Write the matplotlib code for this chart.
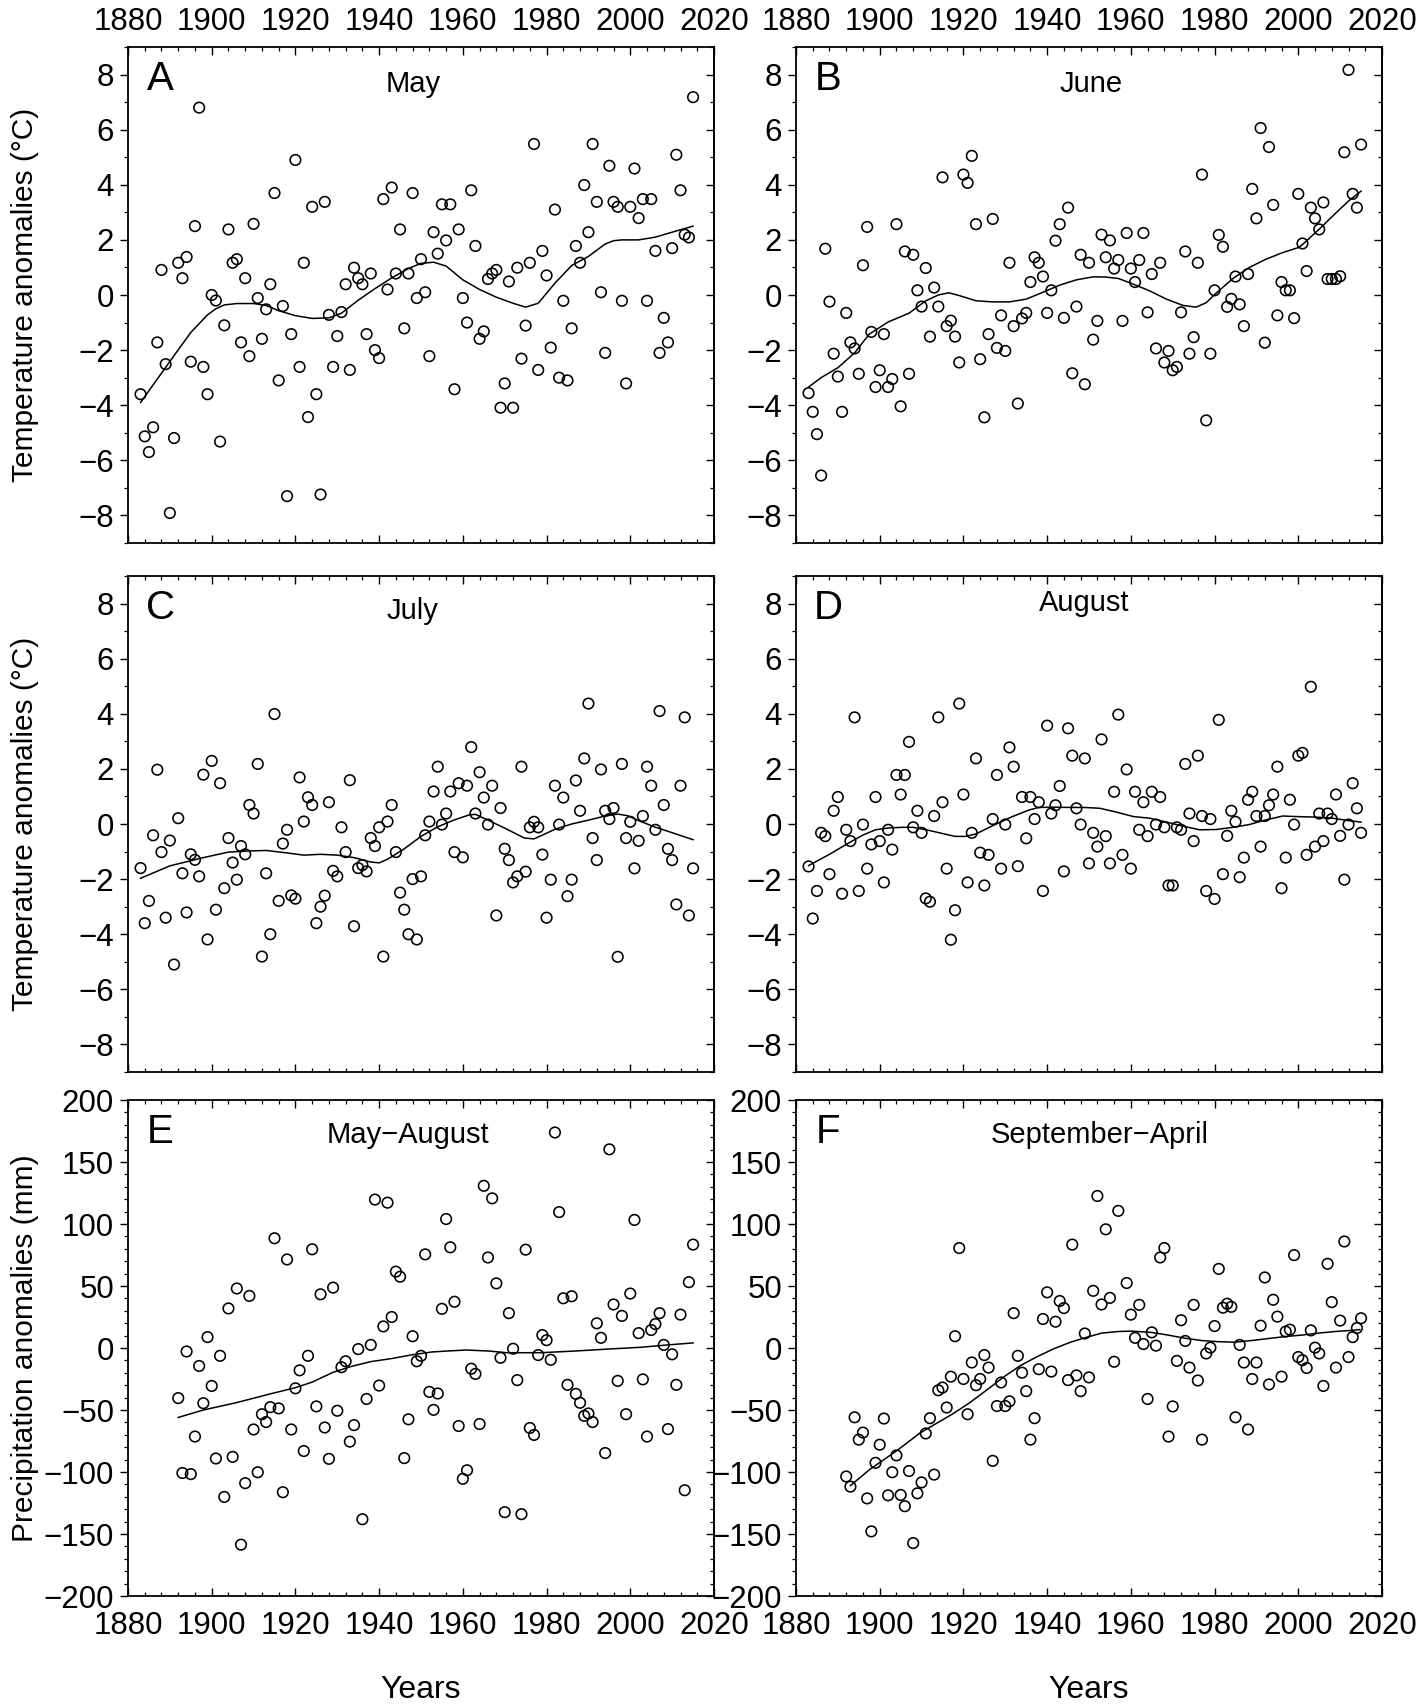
import numpy as np
import matplotlib
matplotlib.use("Agg")
import matplotlib.pyplot as plt
from matplotlib.ticker import MultipleLocator

plt.rcParams['font.family'] = ['Liberation Sans', 'DejaVu Sans']

# ---------------- data ----------------
years_temp = np.arange(1883, 2016)
years_prec = np.arange(1892, 2016)

may = [-3.6, -5.13, -5.7, -4.8, -1.72, 0.91, -2.51, -7.91, -5.19, 1.17,
       0.61, 1.38, -2.42, 2.5, 6.8, -2.61, -3.6, 0.0, -0.2, -5.32,
       -1.1, 2.38, 1.17, 1.3, -1.72, 0.61, -2.22, 2.58, -0.11, -1.59,
       -0.52, 0.39, 3.7, -3.1, -0.4, -7.3, -1.42, 4.9, -2.61, 1.17,
       -4.43, 3.2, -3.6, -7.24, 3.38, -0.72, -2.61, -1.49, -0.62, 0.39,
       -2.72, 0.99, 0.61, 0.39, -1.42, 0.78, -2.0, -2.29, 3.48, 0.2,
       3.9, 0.78, 2.38, -1.21, 0.78, 3.7, -0.11, 1.3, 0.1, -2.22,
       2.28, 1.5, 3.29, 1.98, 3.29, -3.42, 2.38, -0.11, -1.0, 3.8,
       1.78, -1.59, -1.32, 0.58, 0.78, 0.91, -4.09, -3.21, 0.49, -4.09,
       0.99, -2.31, -1.11, 1.17, 5.48, -2.72, 1.6, 0.71, -1.91, 3.1,
       -3.0, -0.21, -3.1, -1.21, 1.78, 1.17, 3.99, 2.28, 5.48, 3.38,
       0.1, -2.1, 4.69, 3.38, 3.2, -0.21, -3.21, 3.2, 4.59, 2.79,
       3.48, -0.21, 3.48, 1.6, -2.1, -0.83, -1.72, 1.7, 5.09, 3.8,
       2.19, 2.09, 7.18]

june = [-3.56, -4.24, -5.05, -6.55, 1.68, -0.24, -2.13, -2.96, -4.24, -0.65,
        -1.72, -1.94, -2.86, 1.08, 2.47, -1.34, -3.34, -2.73, -1.42, -3.34,
        -3.05, 2.57, -4.04, 1.58, -2.86, 1.46, 0.17, -0.42, 0.98, -1.51,
        0.27, -0.42, 4.27, -1.13, -0.93, -1.51, -2.45, 4.37, 4.07, 5.05,
        2.57, -2.33, -4.44, -1.42, 2.76, -1.92, -0.74, -2.03, 1.17, -1.13,
        -3.94, -0.85, -0.65, 0.47, 1.37, 1.17, 0.67, -0.65, 0.17, 1.97,
        2.57, -0.83, 3.17, -2.84, -0.42, 1.46, -3.24, 1.17, -1.62, -0.94,
        2.19, 1.37, 1.98, 0.96, 1.27, -0.94, 2.25, 0.96, 0.47, 1.27,
        2.25, -0.63, 0.76, -1.94, 1.17, -2.45, -2.03, -2.73, -2.61, -0.63,
        1.58, -2.13, -1.53, 1.17, 4.37, -4.55, -2.13, 0.17, 2.18, 1.75,
        -0.43, -0.14, 0.67, -0.34, -1.13, 0.76, 3.85, 2.78, 6.06, -1.73,
        5.37, 3.27, -0.74, 0.47, 0.17, 0.17, -0.84, 3.67, 1.87, 0.87,
        3.17, 2.78, 2.38, 3.36, 0.58, 0.58, 0.58, 0.68, 5.18, 8.17,
        3.67, 3.17, 5.46]

july = [-1.6, -3.6, -2.79, -0.41, 1.97, -1.02, -3.4, -0.6, -5.1, 0.21,
        -1.79, -3.21, -1.1, -1.3, -1.9, 1.79, -4.19, 2.29, -3.11, 1.48,
        -2.33, -0.51, -1.4, -2.02, -0.8, -1.1, 0.69, 0.38, 2.18, -4.81,
        -1.79, -4.0, 3.99, -2.79, -0.71, -0.21, -2.59, -2.71, 1.69, 0.09,
        0.97, 0.69, -3.6, -3.0, -2.6, 0.79, -1.7, -1.9, -0.12, -1.02,
        1.59, -3.71, -1.6, -1.49, -1.72, -0.51, -0.8, -0.12, -4.81, 0.09,
        0.69, -1.02, -2.49, -3.11, -4.0, -2.0, -4.19, -1.9, -0.41, 0.09,
        1.18, 2.08, -0.02, 0.38, 1.18, -1.02, 1.48, -1.21, 1.39, 2.79,
        0.38, 1.88, 0.96, -0.02, 1.39, -3.32, 0.58, -0.9, -1.31, -2.12,
        -1.9, 2.08, -1.73, -0.12, 0.08, -0.12, -1.11, -3.4, -2.02, 1.39,
        -0.02, 0.96, -2.62, -2.02, 1.58, 0.48, 2.38, 4.37, -0.51, -1.31,
        1.98, 0.48, 0.18, 0.58, -4.82, 2.18, -0.51, 0.08, -1.61, -0.61,
        0.29, 2.08, 1.39, -0.21, 4.1, 0.69, -0.9, -1.31, -2.92, 1.39,
        3.87, -3.32, -1.61]

august = [-1.54, -3.43, -2.43, -0.32, -0.44, -1.82, 0.48, 0.98, -2.53, -0.21,
          -0.62, 3.87, -2.43, -0.02, -1.62, -0.74, 0.98, -0.62, -2.12, -0.21,
          -0.93, 1.78, 1.07, 1.78, 2.98, -0.12, 0.48, -0.32, -2.7, -2.82,
          0.29, 3.87, 0.79, -1.62, -4.2, -3.13, 4.37, 1.07, -2.12, -0.32,
          2.38, -1.04, -2.23, -1.12, 0.18, 1.78, -1.62, -0.02, 2.78, 2.08,
          -1.53, 0.98, -0.52, 0.98, 0.18, 0.79, -2.43, 3.57, 0.38, 0.68,
          1.38, -1.72, 3.47, 2.48, 0.57, -0.02, 2.38, -1.43, -0.32, -0.82,
          3.07, -0.44, -1.43, 1.17, 3.97, -1.12, 1.98, -1.62, 1.17, -0.21,
          0.79, -0.44, 1.17, -0.02, 0.98, -0.12, -2.23, -2.23, -0.12, -0.21,
          2.18, 0.38, -0.62, 2.48, 0.29, -2.43, 0.18, -2.72, 3.78, -1.82,
          -0.43, 0.48, 0.08, -1.93, -1.22, 0.88, 1.17, 0.29, -0.82, 0.29,
          0.68, 1.07, 2.08, -2.33, -1.22, 0.88, -0.02, 2.48, 2.58, -1.12,
          4.98, -0.82, 0.38, -0.62, 0.38, 0.18, 1.07, -0.43, -2.02, -0.02,
          1.48, 0.57, -0.32]

prec_may_aug = [-40.4, -100.8, -2.8, -101.7, -71.4, -14.5, -44.5, 8.8, -30.6, -89.1,
                -6.3, -120.1, 31.9, -87.8, 48.0, -158.6, -109.0, 42.0, -65.7, -100.2,
                -53.4, -59.7, -47.7, 88.5, -48.7, -116.3, 71.4, -65.7, -32.5, -18.0,
                -83.1, -6.3, 79.6, -47.1, 43.3, -64.1, -89.4, 48.7, -50.6, -15.5,
                -10.7, -75.5, -62.2, -0.9, -138.1, -41.1, 2.5, 119.7, -30.3, 17.4,
                117.2, 25.0, 61.6, 57.5, -88.8, -57.5, 9.5, -10.7, -6.3, 75.5,
                -35.4, -49.9, -36.7, 31.6, 104.0, 81.2, 37.3, -62.9, -105.5, -98.6,
                -16.7, -20.9, -61.3, 130.8, 73.0, 120.7, 52.1, -7.9, -132.4, 28.1,
                -0.6, -25.9, -134.0, 79.3, -64.5, -70.1, -5.7, 10.4, 6.3, -9.5,
                173.8, 109.6, 40.1, -29.7, 41.7, -37.0, -44.2, -54.7, -52.8, -59.7,
                19.9, 8.2, -84.7, 160.2, 35.1, -26.5, 25.9, -53.4, 43.9, 103.3,
                12.0, -25.3, -71.4, 14.5, 19.3, 28.1, 2.5, -65.4, -5.1, -29.7,
                26.9, -114.7, 53.1, 83.4]

prec_sep_apr = [-103.6, -111.8, -55.9, -73.9, -68.2, -121.3, -147.9, -92.6, -78.0, -56.9,
                -118.8, -100.2, -86.6, -118.5, -127.6, -99.2, -157.3, -117.2, -108.4, -68.9,
                -56.6, -102.1, -34.1, -31.9, -48.0, -23.1, 9.5, 80.6, -25.0, -53.4,
                -11.7, -30.0, -25.0, -5.7, -15.8, -91.0, -46.8, -27.8, -46.8, -43.0,
                28.1, -6.3, -19.9, -34.8, -73.9, -56.6, -17.1, 23.4, 44.9, -19.0,
                21.2, 37.9, 32.2, -25.9, 83.4, -22.1, -34.8, 11.7, -23.7, 46.1,
                122.6, 35.1, 95.7, 40.4, -11.1, 110.6, np.nan, 52.4, 26.9, 8.2,
                34.8, 3.2, -41.1, 12.6, 1.9, 73.0, 80.6, -71.4, -47.1, -10.4,
                22.4, 5.7, -15.8, 34.8, -26.2, -73.9, -4.4, 0.3, 17.7, 63.8,
                32.5, 35.7, 33.2, -55.9, 2.5, -11.7, -65.7, -25.0, -11.7, 18.0,
                56.9, -29.4, 38.9, 25.3, -23.1, 13.3, 14.8, 74.9, -7.3, -9.8,
                -16.1, 14.2, 0.3, -4.4, -30.6, 67.9, 37.0, -15.8, 22.1, 85.9,
                -7.3, 8.8, 16.1, 24.0]

# smoothed trend lines
trend_may_x = [1883, 1887, 1891, 1895, 1899, 1901, 1903, 1906, 1910, 1913, 1916, 1920, 1924,
               1928, 1931, 1935, 1939, 1943, 1947, 1950, 1953, 1956, 1960, 1964, 1968, 1972,
               1975, 1978, 1982, 1986, 1990, 1994, 1996, 1998, 2002, 2006, 2010, 2015]
trend_may_y = [-3.9, -3.05, -2.2, -1.36, -0.72, -0.5, -0.36, -0.31, -0.31, -0.38, -0.57, -0.75,
               -0.85, -0.83, -0.66, -0.19, 0.23, 0.62, 0.96, 1.15, 1.19, 1.05, 0.55, 0.2, -0.08,
               -0.3, -0.44, -0.3, 0.43, 1.07, 1.4, 1.85, 1.97, 2.0, 2.0, 2.1, 2.28, 2.5]

trend_june_x = [1883, 1886, 1890, 1894, 1897.5, 1902, 1907, 1911, 1914, 1916.5, 1919, 1923,
                1927, 1931, 1935, 1939, 1943, 1947, 1951, 1954, 1957, 1960, 1964.5, 1968.5,
                1972.5, 1975.6, 1978, 1980.4, 1984.4, 1988.3, 1992.3, 1996.3, 2000.2, 2001,
                2005, 2009, 2012, 2015]
trend_june_y = [-3.34, -3.0, -2.64, -2.1, -1.42, -0.98, -0.66, -0.21, 0.0, 0.08, -0.02, -0.21,
                -0.25, -0.25, -0.15, 0.1, 0.36, 0.55, 0.66, 0.65, 0.6, 0.43, 0.15, -0.15,
                -0.38, -0.44, -0.28, 0.07, 0.6, 1.0, 1.3, 1.54, 1.73, 1.83, 2.39, 2.98, 3.41, 3.77]

trend_july_x = [1883, 1890, 1898, 1904, 1908.5, 1913, 1918, 1922, 1926, 1930, 1934, 1938,
                1940, 1942, 1946, 1950, 1954, 1958, 1961.5, 1963, 1966, 1970, 1974.7, 1977,
                1979.5, 1982, 1986, 1990, 1994, 1997, 1999.4, 2001.7, 2005.7, 2009.7, 2015]
trend_july_y = [-1.97, -1.52, -1.22, -1.02, -0.98, -0.96, -1.05, -1.13, -1.1, -1.13, -1.22,
                -1.38, -1.41, -1.28, -0.9, -0.45, -0.1, 0.15, 0.33, 0.35, 0.14, -0.15, -0.51,
                -0.54, -0.37, -0.19, 0.0, 0.14, 0.29, 0.36, 0.3, 0.14, -0.1, -0.3, -0.57]

trend_aug_x = [1883, 1888, 1892, 1896, 1899, 1902.3, 1905.4, 1908, 1912, 1916, 1918, 1920.5,
               1923, 1927, 1931.7, 1935.7, 1938, 1941, 1946, 1949, 1952.6, 1956.6, 1960.6,
               1964.5, 1968.5, 1972.5, 1976.4, 1980.4, 1984.4, 1988.3, 1992.3, 1996.3, 1999.4,
               2004.2, 2008.2, 2012.1, 2015]
trend_aug_y = [-1.51, -1.1, -0.74, -0.4, -0.21, -0.14, -0.12, -0.12, -0.24, -0.38, -0.45, -0.45,
               -0.36, -0.06, 0.27, 0.51, 0.6, 0.61, 0.6, 0.6, 0.57, 0.43, 0.27, 0.21, 0.07,
               -0.08, -0.21, -0.2, -0.12, -0.02, 0.15, 0.29, 0.27, 0.25, 0.21, 0.12, 0.07]

trend_pma_x = [1892, 1898, 1906, 1914, 1920, 1924, 1929, 1933.4, 1938, 1943, 1948, 1952.6,
               1956, 1960.8, 1966.4, 1970.4, 1978.5, 1986.5, 1994.5, 2002.6, 2009, 2015]
trend_pma_y = [-56, -50, -44, -37, -32, -27.5, -19.6, -14.8, -11, -8.5, -5.4, -3.2,
               -2.5, -1.6, -2.5, -3.8, -3.8, -2.5, -0.9, 0.6, 2.5, 4.1]

trend_psa_x = [1893, 1897.6, 1904, 1909.6, 1913.6, 1917.6, 1921.6, 1925.6, 1929.6, 1933.6,
               1937.6, 1941.6, 1945.6, 1949.6, 1953, 1957, 1960, 1964.9, 1968.9, 1972.9,
               1976.9, 1980.8, 1984.8, 1988.8, 1992.8, 1996.8, 2000.8, 2004.8, 2008.8,
               2012.7, 2014.7]
trend_psa_y = [-111, -98, -83, -68.6, -60.7, -52.8, -43.9, -33.8, -23.4, -14.2, -7.0, -0.6,
               4.7, 8.8, 12.0, 13.3, 13.6, 12.6, 10.4, 7.9, 6.0, 5.1, 4.7, 6.0, 7.6, 9.2,
               10.4, 12.0, 13.3, 14.2, 14.8]

letters = ['A', 'B', 'C', 'D', 'E', 'F']
titles = ['May', 'June', 'July', 'August', 'May\u2212August', 'September\u2212April']

# ---------------- layout ----------------
W, H = 1418, 1704
fig = plt.figure(figsize=(W / 100, H / 100), dpi=100)

def rect(l, r, t, b):
    return [l / W, 1 - b / H, (r - l) / W, (b - t) / H]

cols = [(128, 714), (796, 1382)]
rows = [(47, 543), (576, 1072), (1100, 1596)]

panels = [
    (0, 0, years_temp, may, trend_may_x, trend_may_y, 'T', (0.486, 0.925)),
    (0, 1, years_temp, june, trend_june_x, trend_june_y, 'T', (0.503, 0.925)),
    (1, 0, years_temp, july, trend_july_x, trend_july_y, 'T', (0.486, 0.93)),
    (1, 1, years_temp, august, trend_aug_x, trend_aug_y, 'T', (0.492, 0.945)),
    (2, 0, years_prec, prec_may_aug, trend_pma_x, trend_pma_y, 'P', (0.477, 0.93)),
    (2, 1, years_prec, prec_sep_apr, trend_psa_x, trend_psa_y, 'P', (0.518, 0.93)),
]

FS = 22.5
for i, (r, c, xs, ys, tx, ty, kind, tpos) in enumerate(panels):
    l, rr = cols[c]
    t, b = rows[r]
    ax = fig.add_axes(rect(l, rr, t, b))
    ax.scatter(xs, ys, s=58, facecolors='none', edgecolors='black', linewidths=1.15, zorder=3)
    ax.plot(tx, ty, color='black', lw=1.1, zorder=2)
    ax.set_xlim(1880, 2020)
    if kind == 'T':
        ax.set_ylim(-9, 9)
        ymaj, ymin = 2, 1
    else:
        ax.set_ylim(-200, 200)
        ymaj, ymin = 50, 10
    ax.xaxis.set_major_locator(MultipleLocator(20))
    ax.xaxis.set_minor_locator(MultipleLocator(4))
    ax.yaxis.set_major_locator(MultipleLocator(ymaj))
    ax.yaxis.set_minor_locator(MultipleLocator(ymin))
    ax.tick_params(axis='x', which='both', direction='in', top=True, bottom=True,
                   labeltop=(r == 0), labelbottom=(r == 2), labelsize=FS,
                   pad=(11 if r == 2 else 7))
    ax.tick_params(axis='x', which='major', length=6, width=1.0)
    ax.tick_params(axis='x', which='minor', length=3, width=0.9)
    ax.tick_params(axis='y', which='both', direction='out', left=True, right=False,
                   labelsize=FS, pad=4)
    ax.tick_params(axis='y', which='major', length=6, width=1.0)
    ax.tick_params(axis='y', which='minor', length=3, width=0.9)
    sec = ax.secondary_yaxis('right')
    sec.yaxis.set_major_locator(MultipleLocator(ymaj))
    sec.yaxis.set_minor_locator(MultipleLocator(ymin))
    sec.tick_params(which='both', direction='in', labelright=False)
    sec.tick_params(which='major', length=6, width=1.0)
    sec.tick_params(which='minor', length=3, width=0.9)
    for sp in ax.spines.values():
        sp.set_linewidth(1.3)
    sec.spines['right'].set_linewidth(1.3)

    ax.text(0.055, 0.935, letters[i], transform=ax.transAxes, fontsize=29,
            ha='center', va='center')
    ax.text(tpos[0], tpos[1], titles[i], transform=ax.transAxes, fontsize=21,
            ha='center', va='center')

    if c == 0:
        if kind == 'T':
            ax.set_ylabel('Temperature anomalies (\u00b0C)', fontsize=21.5)
        else:
            ax.set_ylabel('Precipitation anomalies (mm)', fontsize=21.5)
        ax.yaxis.set_label_coords(-0.152, 0.5)
    if r == 2:
        ax.set_xlabel('Years', fontsize=23, labelpad=24)

fig.savefig('out.png', dpi=100, facecolor='white')
